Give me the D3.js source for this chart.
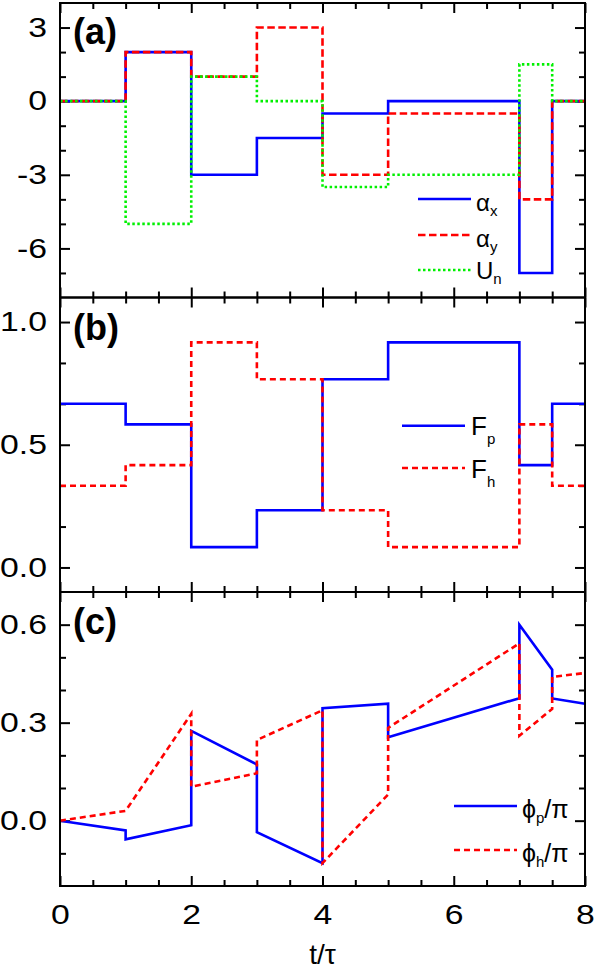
<!DOCTYPE html>
<html>
<head>
<meta charset="utf-8">
<script src="https://d3js.org/d3.v7.min.js"></script>
<style>
  body { margin: 0; background: #fff; }
  text { font-family: "Liberation Sans", Arial, sans-serif; }
</style>
</head>
<body>
<svg id="chart" width="596" height="977"></svg>
<script>
// step breakpoints for panels (a) and (b)
const tSteps = [0, 1, 2, 3, 4, 5, 7, 7.5, 8];
const alphaX = [0, 2, -3, -1.5, -0.5, 0, -7, 0];
const alphaY = [0, 2, 1, 3, -3, -0.5, -4, 0];
const Un     = [0, -5, 1, 0, -3.5, -3, 1.5, 0];
const Fp = [0.667, 0.583, 0.083, 0.233, 0.767, 0.917, 0.417, 0.667];
const Fh = [0.333, 0.417, 0.917, 0.767, 0.233, 0.083, 0.583, 0.333];

// phases, panel (c)
const tPhase = [0, 1, 1, 2, 2, 3, 3, 4, 4, 5, 5, 7, 7, 7.5, 7.5, 8];
const phiP = [0, -0.03, -0.057, -0.014, 0.275, 0.172, -0.035, -0.13, 0.344, 0.358, 0.255, 0.375, 0.6, 0.462, 0.374, 0.358];
const phiH = [0, 0.03, 0.03, 0.327, 0.104, 0.145, 0.247, 0.338, -0.13, 0.08, 0.284, 0.543, 0.26, 0.342, 0.44, 0.452];

const xMajor = [0, 2, 4, 6, 8];
const xMinor = d3.range(0.5, 8, 0.5).filter(d => d % 2 !== 0);

const svg = d3.select("#chart");
const x = d3.scaleLinear().domain([0, 8]).range([60, 585]);
const SX = 1.25; // tick labels are drawn a bit wide in the original

const panels = [
  { name: "(a)", top: 3, bottom: 297.5, domain: [-8, 4],
    major: [-6, -3, 0, 3], minor: [-7, -5, -4, -2, -1, 1, 2],
    fmt: d => String(d), labelY: 44 },
  { name: "(b)", top: 297.5, bottom: 592, domain: [-0.1, 1.1],
    major: [0, 0.5, 1], minor: [1/6, 2/6, 4/6, 5/6],
    fmt: d3.format(".1f"), labelY: 340 },
  { name: "(c)", top: 592, bottom: 886, domain: [-0.2, 0.7],
    major: [0, 0.3, 0.6], minor: [-0.1, 0.1, 0.2, 0.4, 0.5],
    fmt: d3.format(".1f"), labelY: 634 }
];
panels.forEach(p => {
  p.y = d3.scaleLinear().domain(p.domain).range([p.bottom, p.top]);
});

function stepPts(vals) {
  const pts = vals.map((v, i) => [tSteps[i], v]);
  pts.push([tSteps[tSteps.length - 1], vals[vals.length - 1]]);
  return pts;
}

function drawLine(p, pts, color, dash, curve) {
  const line = d3.line()
    .x(d => x(d[0]))
    .y(d => p.y(d[1]))
    .curve(curve);
  svg.append("path")
    .attr("d", line(pts))
    .attr("fill", "none")
    .attr("stroke", color)
    .attr("stroke-width", 2.6)
    .attr("stroke-dasharray", dash);
}

function styleAxis(g) {
  g.select(".domain").remove();
  g.selectAll(".tick line").attr("stroke", "#000").attr("stroke-width", 2);
  g.selectAll("text").attr("font-size", 27).attr("fill", "#000")
    .attr("font-family", "Liberation Sans, Arial, sans-serif")
    .attr("transform", `scale(${SX},1)`);
}

// axes + frames
panels.forEach((p, i) => {
  const last = i === panels.length - 1;
  // x ticks, bottom and top, pointing inward
  svg.append("g").attr("transform", `translate(0,${p.bottom})`)
    .call(d3.axisBottom(x).tickValues(xMinor).tickSize(-6).tickFormat("")).call(styleAxis);
  svg.append("g").attr("transform", `translate(0,${p.bottom})`)
    .call(d3.axisBottom(x).tickValues(xMajor).tickSize(-10).tickPadding(19)
      .tickFormat(last ? d3.format("d") : "")).call(styleAxis);
  svg.append("g").attr("transform", `translate(0,${p.top})`)
    .call(d3.axisTop(x).tickValues(xMinor).tickSize(-6).tickFormat("")).call(styleAxis);
  svg.append("g").attr("transform", `translate(0,${p.top})`)
    .call(d3.axisTop(x).tickValues(xMajor).tickSize(-10).tickFormat("")).call(styleAxis);
  // y ticks, left and right
  svg.append("g").attr("transform", `translate(60,0)`)
    .call(d3.axisLeft(p.y).tickValues(p.minor).tickSize(-6).tickFormat("")).call(styleAxis);
  svg.append("g").attr("transform", `translate(60,0)`)
    .call(d3.axisLeft(p.y).tickValues(p.major).tickSize(-10).tickFormat(p.fmt)).call(styleAxis)
    .call(g => g.selectAll("text").attr("x", -13 / SX));
  svg.append("g").attr("transform", `translate(585,0)`)
    .call(d3.axisRight(p.y).tickValues(p.minor).tickSize(-6).tickFormat("")).call(styleAxis);
  svg.append("g").attr("transform", `translate(585,0)`)
    .call(d3.axisRight(p.y).tickValues(p.major).tickSize(-10).tickFormat("")).call(styleAxis);

  svg.append("text")
    .attr("x", 73).attr("y", p.labelY)
    .attr("font-size", 36).attr("font-weight", "bold")
    .text(p.name);
});

const pa = panels[0], pb = panels[1], pc = panels[2];
const BLUE = "#0000ff", RED = "#ff0000", GREEN = "#00f000";

// panel (a)
drawLine(pa, stepPts(alphaX), BLUE, null, d3.curveStepAfter);
drawLine(pa, stepPts(alphaY), RED, "7.5,3.5", d3.curveStepAfter);
drawLine(pa, stepPts(Un), GREEN, "2.5,2.5", d3.curveStepAfter);

// panel (b)
drawLine(pb, stepPts(Fp), BLUE, null, d3.curveStepAfter);
drawLine(pb, stepPts(Fh), RED, "6,4", d3.curveStepAfter);

// panel (c)
drawLine(pc, tPhase.map((t, i) => [t, phiP[i]]), BLUE, null, d3.curveLinear);
drawLine(pc, tPhase.map((t, i) => [t, phiH[i]]), RED, "6,4", d3.curveLinear);

// frames
panels.forEach(p => {
  svg.append("rect")
    .attr("x", 60).attr("y", p.top)
    .attr("width", 525).attr("height", p.bottom - p.top)
    .attr("fill", "none").attr("stroke", "#000").attr("stroke-width", 2);
});

// legends
function legend(items, x0, x1, tx, size) {
  items.forEach(it => {
    svg.append("line")
      .attr("x1", x0).attr("x2", x1).attr("y1", it.y).attr("y2", it.y)
      .attr("stroke", it.color).attr("stroke-width", 2.6)
      .attr("stroke-dasharray", it.dash);
    const t = svg.append("text").attr("x", tx).attr("y", it.y + it.base)
      .attr("font-size", size).attr("fill", "#000");
    t.append("tspan").text(it.main);
    t.append("tspan").attr("font-size", 15).attr("dy", it.sub).text(it.subText);
    if (it.tail) t.append("tspan").attr("dy", -it.sub).text(it.tail);
  });
}

legend([
  { y: 199, color: BLUE, dash: null, main: "α", subText: "x", base: 12, sub: 5 },
  { y: 235, color: RED, dash: "7.5,3.5", main: "α", subText: "y", base: 12, sub: 5 },
  { y: 270, color: GREEN, dash: "2.5,2.5", main: "U", subText: "n", base: 9, sub: 5 }
], 418, 471, 476, 24);

legend([
  { y: 425.7, color: BLUE, dash: null, main: "F", subText: "p", base: 9.5, sub: 9 },
  { y: 468, color: RED, dash: "6,4", main: "F", subText: "h", base: 10, sub: 9 }
], 402, 465, 471, 26);

legend([
  { y: 806, color: BLUE, dash: null, main: "ϕ", subText: "p", base: 12, sub: 5, tail: "/π" },
  { y: 850, color: RED, dash: "6,4", main: "ϕ", subText: "h", base: 12, sub: 5, tail: "/π" }
], 454, 517, 522, 25);

// x axis title
svg.append("text")
  .attr("x", 322.5).attr("y", 964)
  .attr("text-anchor", "middle")
  .attr("font-size", 28)
  .text("t/τ");
</script>
</body>
</html>
